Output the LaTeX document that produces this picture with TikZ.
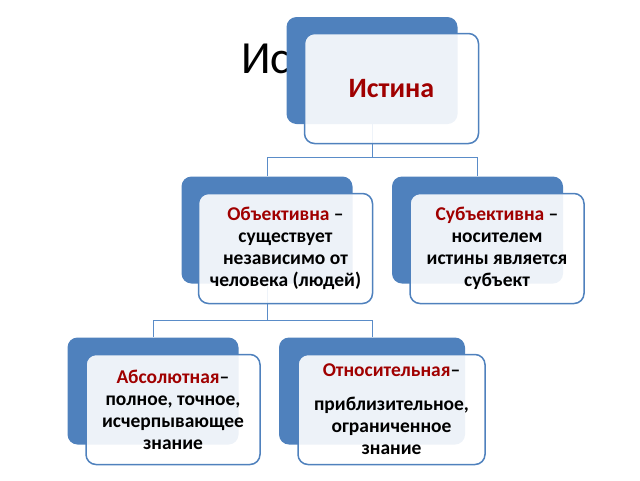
\documentclass[tikz,border=0pt]{standalone}
\usepackage{fontspec}
\setmainfont{Carlito}
\definecolor{boxblue}{RGB}{79,129,189}
\definecolor{lineblue}{RGB}{90,140,200}
\definecolor{termred}{RGB}{160,0,0}
\tikzset{
  backbox/.style={fill=boxblue, rounded corners=10pt, minimum width=171pt, minimum height=107pt, inner sep=0pt},
  frontbox/.style={draw=boxblue, line width=1.5pt, fill=white, fill opacity=0.9, text opacity=1, rounded corners=10pt, minimum width=174pt, minimum height=110pt, align=center, inner sep=0pt, font=\bfseries\fontsize{19.5}{22}\selectfont},
  link/.style={draw=lineblue, line width=1pt},
}
\newcommand{\term}[1]{\textcolor{termred}{#1}}
\begin{document}
\begin{tikzpicture}[x=1pt,y=-1pt]
	\useasboundingbox (0,0) rectangle (640,480);
	\node[anchor=base west, inner sep=0pt, font=\fontsize{46}{50}\selectfont] (title) at (241,73) {Ис};
	% back boxes
	\node[backbox] (istB) at (372,70.5) {};
	\node[backbox] (objB) at (267,230) {};
	\node[backbox] (subB) at (477.5,230) {};
	\node[backbox] (absB) at (153,391) {};
	\node[backbox, minimum width=186pt] (otnB) at (372,391) {};
	% connectors
	\draw[link] (istB.south) -- ++(0,33) -| (objB.north);
	\draw[link] (istB.south) -- ++(0,33) -| (subB.north);
	\draw[link] (objB.south) -- ++(0,37) -| (absB.north);
	\draw[link] (objB.south) -- ++(0,37) -| (otnB.north);
	% front boxes
	\node[frontbox, font=\bfseries\fontsize{28}{32}\selectfont] (ist) at (391.5,88.5) {\term{Истина}};
	\node[frontbox] (obj) at (285.5,248.5) {\term{Объективна} –\\существует\\независимо от\\человека (людей)};
	\node[frontbox] (sub) at (497,248.5) {\term{Субъективна} –\\носителем\\истины является\\субъект};
	\node[frontbox] (abs) at (173,409.5) {\term{Абсолютная}–\\полное, точное,\\исчерпывающее\\знание};
	\node[frontbox, minimum width=187pt] (otn) at (391.5,409.5) {\term{Относительная}–\\[12pt]приблизительное,\\ограниченное\\знание};
\end{tikzpicture}
\end{document}
